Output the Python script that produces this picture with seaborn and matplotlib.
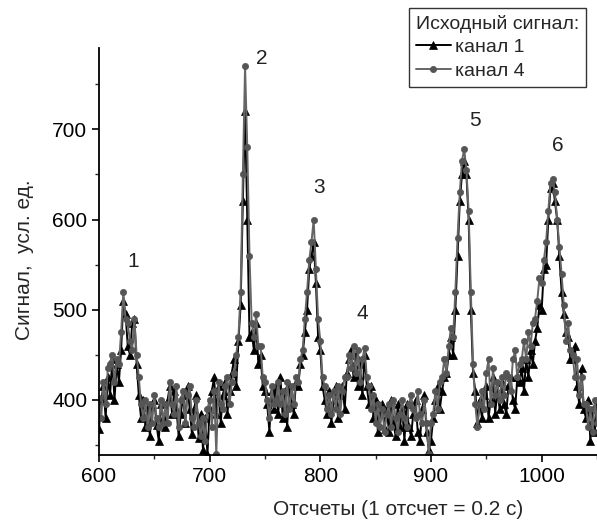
import numpy as np
import pandas as pd
import matplotlib
matplotlib.use("Agg")
import matplotlib.pyplot as plt
import seaborn as sns
from matplotlib.ticker import MultipleLocator

# sample counts (every 2nd count)
counts = np.arange(600, 1051, 2)

ch1 = [
    368, 400, 415, 380, 425, 405, 445, 400, 440, 420,
    455, 510, 495, 460, 450, 485, 490, 440, 405, 380,
    400, 370, 392, 360, 395, 400, 372, 355, 395, 380,
    370, 400, 415, 385, 410, 390, 360, 385, 405, 375,
    415, 390, 362, 390, 405, 358, 385, 345, 380, 340,
    390, 410, 425, 385, 415, 375, 405, 420, 385, 410,
    430, 445, 415, 465, 505, 620, 720, 600, 470, 475,
    455, 485, 440, 450, 415, 410, 395, 365, 410, 390,
    415, 385, 425, 380, 410, 370, 415, 395, 385, 420,
    415, 440, 450, 475, 500, 545, 560, 575, 530, 470,
    455, 415, 400, 385, 410, 375, 400, 415, 380, 405,
    415, 390, 430, 445, 455, 425, 450, 415, 440, 405,
    450, 415, 395, 415, 380, 400, 365, 385, 395, 368,
    390, 365, 400, 375, 360, 395, 370, 390, 355, 395,
    370, 360, 385, 400, 365, 355, 390, 405, 365, 345,
    355, 380, 400, 415, 390, 410, 425, 430, 450, 470,
    450, 500, 560, 620, 650, 665, 650, 600, 500, 430,
    410, 375, 400, 380, 405, 415, 380, 400, 425, 385,
    410, 390, 420, 395, 385, 415, 425, 400, 390, 425,
    420, 435, 410, 445, 425, 455, 440, 465, 480, 505,
    500, 545, 550, 600, 635, 640, 620, 600, 560, 520,
    495, 475, 470, 445, 445, 460, 415, 395, 435, 390,
    380, 400, 355, 390, 365, 395,
]

ch4 = [
    402, 380, 420, 395, 435, 440, 450, 420, 445, 440,
    475, 520, 490, 485, 465, 455, 490, 450, 425, 395,
    380, 400, 370, 395, 375, 405, 380, 370, 400, 375,
    395, 375, 420, 395, 385, 415, 370, 400, 410, 375,
    405, 415, 380, 370, 400, 375, 360, 380, 355, 390,
    400, 370, 410, 340, 420, 395, 390, 415, 425, 395,
    420, 430, 450, 470, 520, 650, 770, 680, 560, 485,
    470, 495, 460, 460, 425, 420, 400, 380, 415, 395,
    400, 420, 395, 410, 385, 420, 390, 415, 395, 425,
    420, 445, 455, 490, 520, 555, 575, 600, 545, 490,
    465, 425, 415, 390, 405, 385, 410, 390, 415, 385,
    410, 425, 425, 450, 435, 460, 430, 455, 420, 445,
    458, 425, 415, 390, 405, 375, 395, 370, 390, 365,
    385, 395, 370, 400, 380, 365, 385, 400, 380, 370,
    395, 405, 390, 380, 410, 385, 375, 400, 375, 340,
    375, 385, 410, 390, 420, 425, 445, 430, 460, 480,
    470, 520, 580, 630, 665, 678, 655, 610, 520, 440,
    395, 370, 395, 410, 390, 430, 445, 395, 435, 405,
    420, 400, 425, 405, 430, 425, 410, 445, 455, 425,
    440, 445, 465, 445, 475, 460, 485, 490, 510, 535,
    530, 555, 575, 610, 640, 645, 630, 600, 570, 540,
    505, 465, 485, 455, 450, 425, 445, 405, 425, 395,
    395, 370, 390, 365, 400, 375,
]

peak_labels = ["1", "2", "3", "4", "5", "6"]
peak_x = [631, 747, 799, 838, 940, 1015]
peak_y = [553, 779, 635, 496, 710, 682]

series_names = ["канал 1", "канал 4"]
legend_title = "Исходный сигнал:"

sns.set_style("ticks")
plt.rcParams["font.family"] = ["Liberation Sans", "DejaVu Sans"]

fig = plt.figure(figsize=(5.97, 5.23), dpi=100)
ax = fig.add_axes([0.1658, 0.130, 0.8342, 0.778])

sns.lineplot(x=counts, y=ch1, ax=ax, color="black", linewidth=1.4,
             marker="^", markersize=6, markeredgewidth=0.5,
             markeredgecolor="black", label=series_names[0])
sns.lineplot(x=counts, y=ch4, ax=ax, color="#666666", linewidth=1.4,
             marker="o", markersize=4.5, markeredgewidth=0.5,
             markeredgecolor="#555555", markerfacecolor="#555555",
             label=series_names[1])

for t, xx, yy in zip(peak_labels, peak_x, peak_y):
    ax.text(xx, yy, t, fontsize=15, ha="center", va="center", color="#222222")

ax.set_xlim(600, 1050)
ax.set_ylim(339, 790)
ax.xaxis.set_major_locator(MultipleLocator(100))
ax.xaxis.set_minor_locator(MultipleLocator(50))
ax.yaxis.set_major_locator(MultipleLocator(100))
ax.yaxis.set_minor_locator(MultipleLocator(50))
ax.tick_params(which="major", direction="out", length=5, width=1.2,
               labelsize=15, colors="black")
ax.tick_params(which="minor", direction="out", length=3, width=1.0)
for s in ["top", "right"]:
    ax.spines[s].set_visible(False)
for s in ["left", "bottom"]:
    ax.spines[s].set_linewidth(1.3)
    ax.spines[s].set_color("black")

ax.set_xlabel("Отсчеты (1 отсчет = 0.2 с)", fontsize=15)
ax.xaxis.set_label_coords(0.60, -0.135)
ax.set_ylabel("Сигнал,  усл. ед.", fontsize=15)
ax.yaxis.set_label_coords(-0.149, 0.48)
ax.yaxis.label.set_verticalalignment("center")
ax.xaxis.label.set_verticalalignment("center")

leg = ax.legend(title=legend_title, loc="upper right",
                bbox_to_anchor=(586 / 597, 1 - 8 / 523),
                bbox_transform=fig.transFigure, frameon=True,
                fancybox=False, fontsize=14, title_fontsize=14,
                handlelength=1.8, handletextpad=0.2, borderpad=0.35,
                labelspacing=0.3, borderaxespad=0)
leg._legend_box.align = "left"
leg.get_frame().set_edgecolor("black")
leg.get_frame().set_linewidth(1.0)

fig.savefig("out.png", dpi=100)
